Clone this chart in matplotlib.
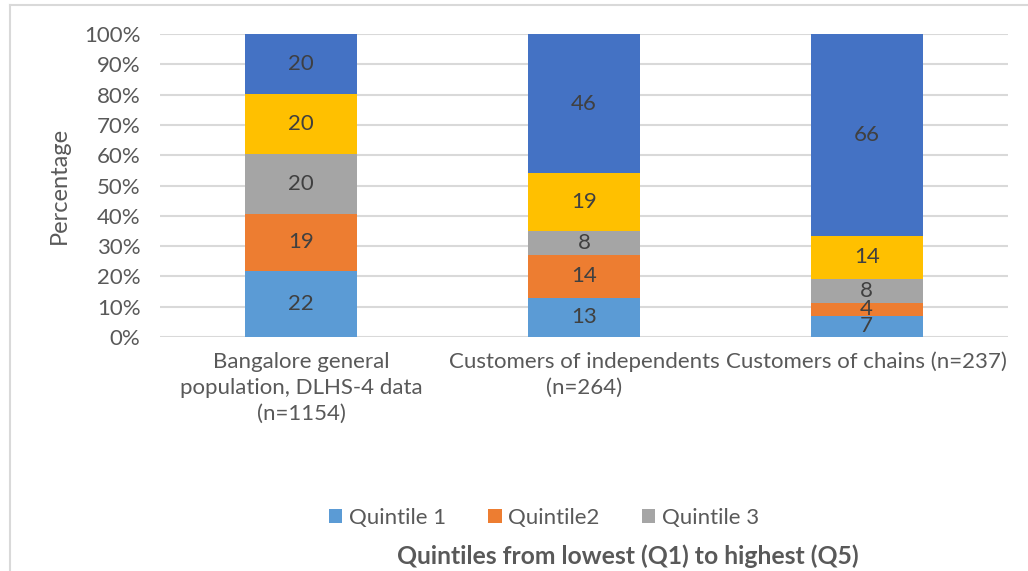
import matplotlib.pyplot as plt
import numpy as np
from matplotlib.lines import Line2D

plt.rcParams['font.family'] = ['Lato', 'DejaVu Sans']

categories = ['Bangalore general\npopulation, DLHS-4 data\n(n=1154)',
              'Customers of independents\n(n=264)',
              'Customers of chains (n=237)']
series_names = ['Quintile 1', 'Quintile2', 'Quintile 3', 'Quintile 4', 'Quintile 5']
q1 = [22, 13, 7]
q2 = [19, 14, 4]
q3 = [20, 8, 8]
q4 = [20, 19, 14]
q5 = [20, 46, 66]
colors = ['#5B9BD5', '#ED7D31', '#A5A5A5', '#FFC000', '#4472C4']

values = np.array([q1, q2, q3, q4, q5], dtype=float)
shares = values / values.sum(axis=0) * 100

fig = plt.figure(figsize=(10.28, 5.71), dpi=100)
ax = fig.add_axes([160 / 1028, 1 - 337 / 571, 848 / 1028, 303 / 571])

x = np.arange(len(categories))
bottom = np.zeros(len(categories))
handles = []
for i, name in enumerate(series_names):
    bars = ax.bar(x, shares[i], 0.396, bottom=bottom, color=colors[i],
                  label=name, zorder=3)
    handles.append(bars)
    for j in range(len(categories)):
        ax.text(x[j], bottom[j] + shares[i][j] / 2, f'{int(values[i][j])}',
                ha='center', va='center', fontsize=16, color='#404040', zorder=4)
    bottom += shares[i]

ax.set_xlim(-0.5, 2.5)
ax.set_ylim(0, 100)
ax.set_yticks(range(0, 101, 10))
ax.set_yticklabels([f'{t}%' for t in range(0, 101, 10)])
ax.set_xticks(x)
ax.set_xticklabels(categories, linespacing=1.35)
ax.tick_params(axis='both', length=0, labelsize=16, labelcolor='#595959')
ax.tick_params(axis='x', pad=11)
ax.tick_params(axis='y', pad=14)
ax.yaxis.grid(True, color='#D9D9D9', linewidth=1.5, zorder=0)
for s in ax.spines.values():
    s.set_visible(False)
ax.set_ylabel('Percentage', fontsize=17, color='#595959', labelpad=10)

# legend only shows the first three quintiles in the source
fig.legend(handles[:3], series_names[:3], loc='center', bbox_to_anchor=(544 / 1028, 1 - 518 / 571),
           ncol=3, frameon=False, fontsize=16, labelcolor='#595959',
           handlelength=0.6, handleheight=0.6, handletextpad=0.3, columnspacing=1.9)
fig.text(628 / 1028, 1 - 556 / 571, 'Quintiles from lowest (Q1) to highest (Q5)',
         ha='center', va='center', fontsize=17.8, fontweight='bold', color='#595959')

# chart frame (left and top edges visible)
fig.add_artist(Line2D([9.5 / 1028, 9.5 / 1028], [0, 1 - 5 / 571], color='#D9D9D9', linewidth=1.5))
fig.add_artist(Line2D([9.5 / 1028, 1], [1 - 5 / 571, 1 - 5 / 571], color='#D9D9D9', linewidth=1.5))

plt.savefig('out.png', dpi=100)
